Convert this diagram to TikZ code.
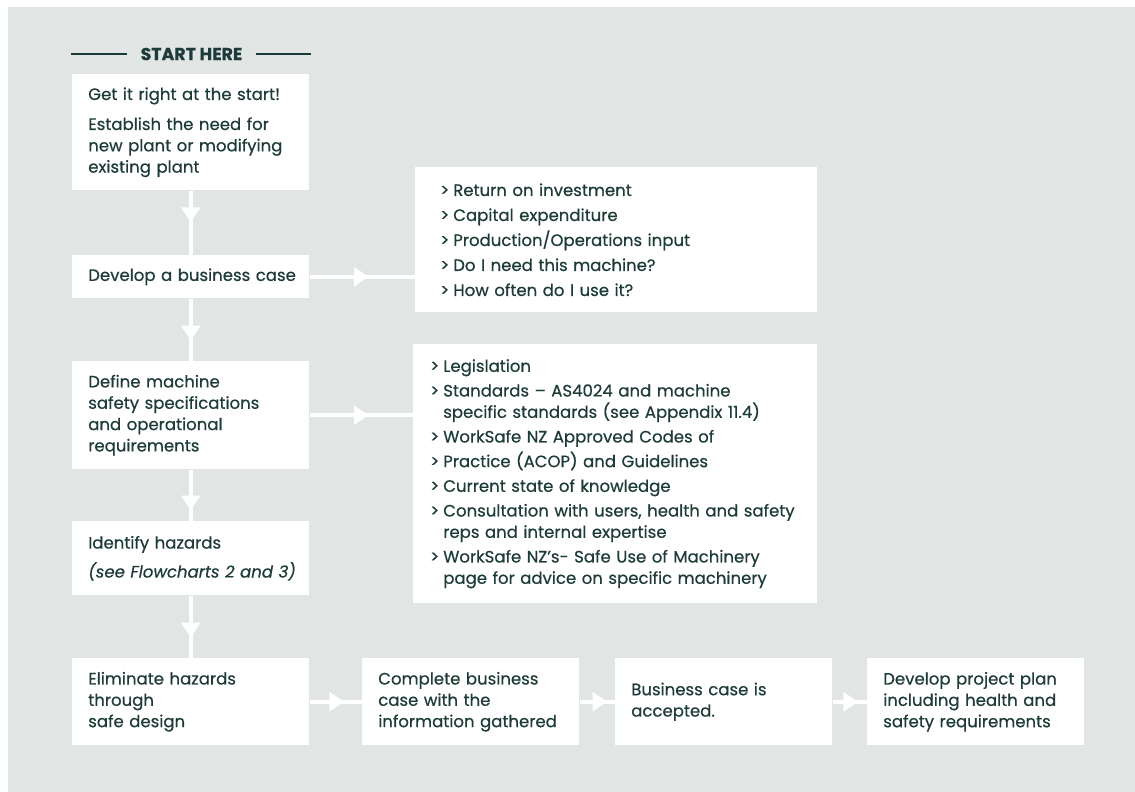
\documentclass[tikz,border=0pt]{standalone}
\usepackage{fontspec}
\setmainfont{Poppins}[FakeBold=0.5]
\usetikzlibrary{arrows.meta,decorations.markings}
\definecolor{panelGray}{RGB}{225,230,229}
\definecolor{inkGreen}{RGB}{29,59,56}
\newcommand{\bodyfont}{\fontsize{12.4}{16}\selectfont}
\newcommand{\gt}{\makebox[9.75pt][l]{>}}
\newcommand{\gtin}{\hspace*{9.75pt}}

\tikzset{
  box/.style={fill=white,anchor=north west,align=left,inner xsep=12pt,inner ysep=0pt,
    text=inkGreen,font=\bodyfont},
  leftbox/.style={box,text width=153.75pt},
  rowbox/.style={box,text width=138.75pt,minimum height=65.25pt},
  flow/.style={color=white,line width=3pt,postaction={decorate},
    decoration={markings,mark=at position #1 with {\arrow{Triangle[width=14pt,length=11pt]}}}},
  flow/.default=0.6
}

\begin{document}
\begin{tikzpicture}[x=0.75pt,y=-0.75pt]
            \useasboundingbox (0,0) rectangle (1135,792);
            \fill[white] (0,0) rectangle (1135,792);
            \fill[panelGray] (8,7) rectangle (1135,792);

            % Heading
            \node[text=inkGreen,font=\fontsize{13}{15}\selectfont\bfseries,inner xsep=9.75pt] (head) at (191.5,54) {START HERE};
            \coordinate (ruleL) at (71,54);
            \coordinate (ruleR) at (311,54);
            \draw[inkGreen,line width=1.1pt] (ruleL) -- (head.west);
            \draw[inkGreen,line width=1.1pt] (head.east) -- (ruleR);

            % Left column
            \node[leftbox,minimum height=87pt] (start) at (72,74) {\mbox{Get it right at the start!}\\[6.5pt]
              Establish the need for\\ \mbox{new plant or modifying}\\ existing plant};
            \node[leftbox,minimum height=32.25pt] (case) at (72,255) {\mbox{Develop a business case}};
            \node[leftbox,minimum height=81pt] (spec) at (72,361) {Define machine\\ \mbox{safety specifications}\\
              and operational\\ requirements};
            \node[leftbox,minimum height=55.5pt] (haz) at (72,521) {Identify hazards\\[5.75pt]
              \itshape \mbox{(see Flowcharts 2 and 3)}};

            % Side lists
            \node[box,inner xsep=18.75pt,text width=264pt,minimum height=108.75pt] (caseinfo) at (415,167) {%
              \gt Return on investment\\[2.75pt]
              \gt Capital expenditure\\[2.75pt]
              \gt Production/Operations input\\[2.75pt]
              \gt Do I need this machine?\\[2.75pt]
              \gt How often do I use it?};
            \node[box,inner xsep=12.75pt,text width=277.5pt,minimum height=194.25pt] (specinfo) at (413,344) {%
              \gt Legislation\\[2.5pt]
              \gt Standards – AS4024 and machine\\ \gtin \mbox{specific standards (see Appendix 11.4)}\\[2.5pt]
              \gt WorkSafe NZ Approved Codes of\\[2.5pt]
              \gt Practice (ACOP) and Guidelines\\[2.5pt]
              \gt Current state of knowledge\\[2.5pt]
              \gt \mbox{Consultation with users, health and safety}\\ \gtin reps and internal expertise\\[2.5pt]
              \gt \mbox{WorkSafe NZ’s- Safe Use of Machinery}\\ \gtin \mbox{page for advice on specific machinery}};

            % Bottom row
            \node[leftbox,minimum height=65.25pt] (elim) at (72,658) {Eliminate hazards\\ through\\ safe design};
            \node[rowbox] (comp) at (362,658) {\mbox{Complete business}\\ case with the\\ \mbox{information gathered}};
            \node[rowbox] (acc) at (615,658) {Business case is\\ accepted.};
            \node[rowbox] (plan) at (867,658) {\mbox{Develop project plan}\\ \mbox{including health and}\\ \mbox{safety requirements}};

            % Connections
            \draw[flow=0.49] (start) -- (case);
            \draw[flow=0.67] (case) -- (spec);
            \draw[flow=0.79] (spec) -- (haz);
            \draw[flow=0.67] (haz) -- (elim);
            \draw[flow=0.56] (case.east) -- (case.east -| caseinfo.west);
            \draw[flow=0.57] (spec.east) -- (spec.east -| specinfo.west);
            \draw[flow=0.66] (elim) -- (comp);
            \draw[flow=0.78] (comp) -- (acc);
            \draw[flow=0.74] (acc) -- (plan);
        \end{tikzpicture}
\end{document}
